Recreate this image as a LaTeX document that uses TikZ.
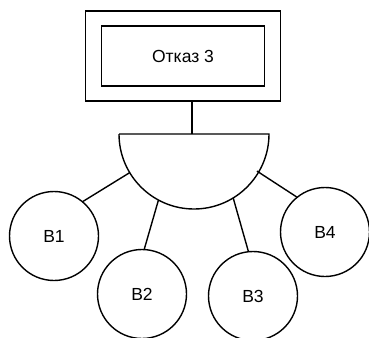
\documentclass[tikz,border=0pt]{standalone}
\usepackage{fontspec}
\setmainfont{Liberation Sans}
\begin{document}
\begin{tikzpicture}[x=1pt,y=-1pt,
  line width=1.4pt,
  evt/.style={draw,circle,minimum size=89pt,inner sep=0pt,font=\fontsize{17.5}{20}\selectfont},
  boxo/.style={draw,rectangle,minimum width=195pt,minimum height=90pt,inner sep=0pt},
  boxi/.style={draw,rectangle,minimum width=163pt,minimum height=60pt,inner sep=0pt,font=\fontsize{17.5}{20}\selectfont}]
\useasboundingbox (0,0) rectangle (369,337);
% top event
\node[boxo] (outer) at (183,56) {};
\node[boxi] (inner) at (183,56) {Отказ 3};
% gate
\coordinate (gc) at (194,134);
\coordinate (gt) at (192,134);
\draw (119,134) -- (269,134) arc[start angle=0,end angle=-180,radius=75pt];
\coordinate (g1) at ([shift={(gc)}]211:75pt);
\coordinate (g2) at ([shift={(gc)}]241.7:75pt);
\coordinate (g3) at ([shift={(gc)}]301.5:75pt);
\coordinate (g4) at ([shift={(gc)}]329.5:73pt);
\draw (outer.south -| gt) -- (gt);
% events
\begin{scope}
\clip (0,0) rectangle (369,337);
\node[evt] (b1) at (54,236) {B1};
\node[evt] (b2) at (142,294) {B2};
\node[evt] (b3) at (253,296) {B3};
\node[evt] (b4) at (325,232) {B4};
\end{scope}
\draw (b1.50) -- (g1);
\draw (b2.87) -- (g2);
\draw (b3.96) -- (g3);
\draw (b4.129) -- (g4);
\end{tikzpicture}
\end{document}
